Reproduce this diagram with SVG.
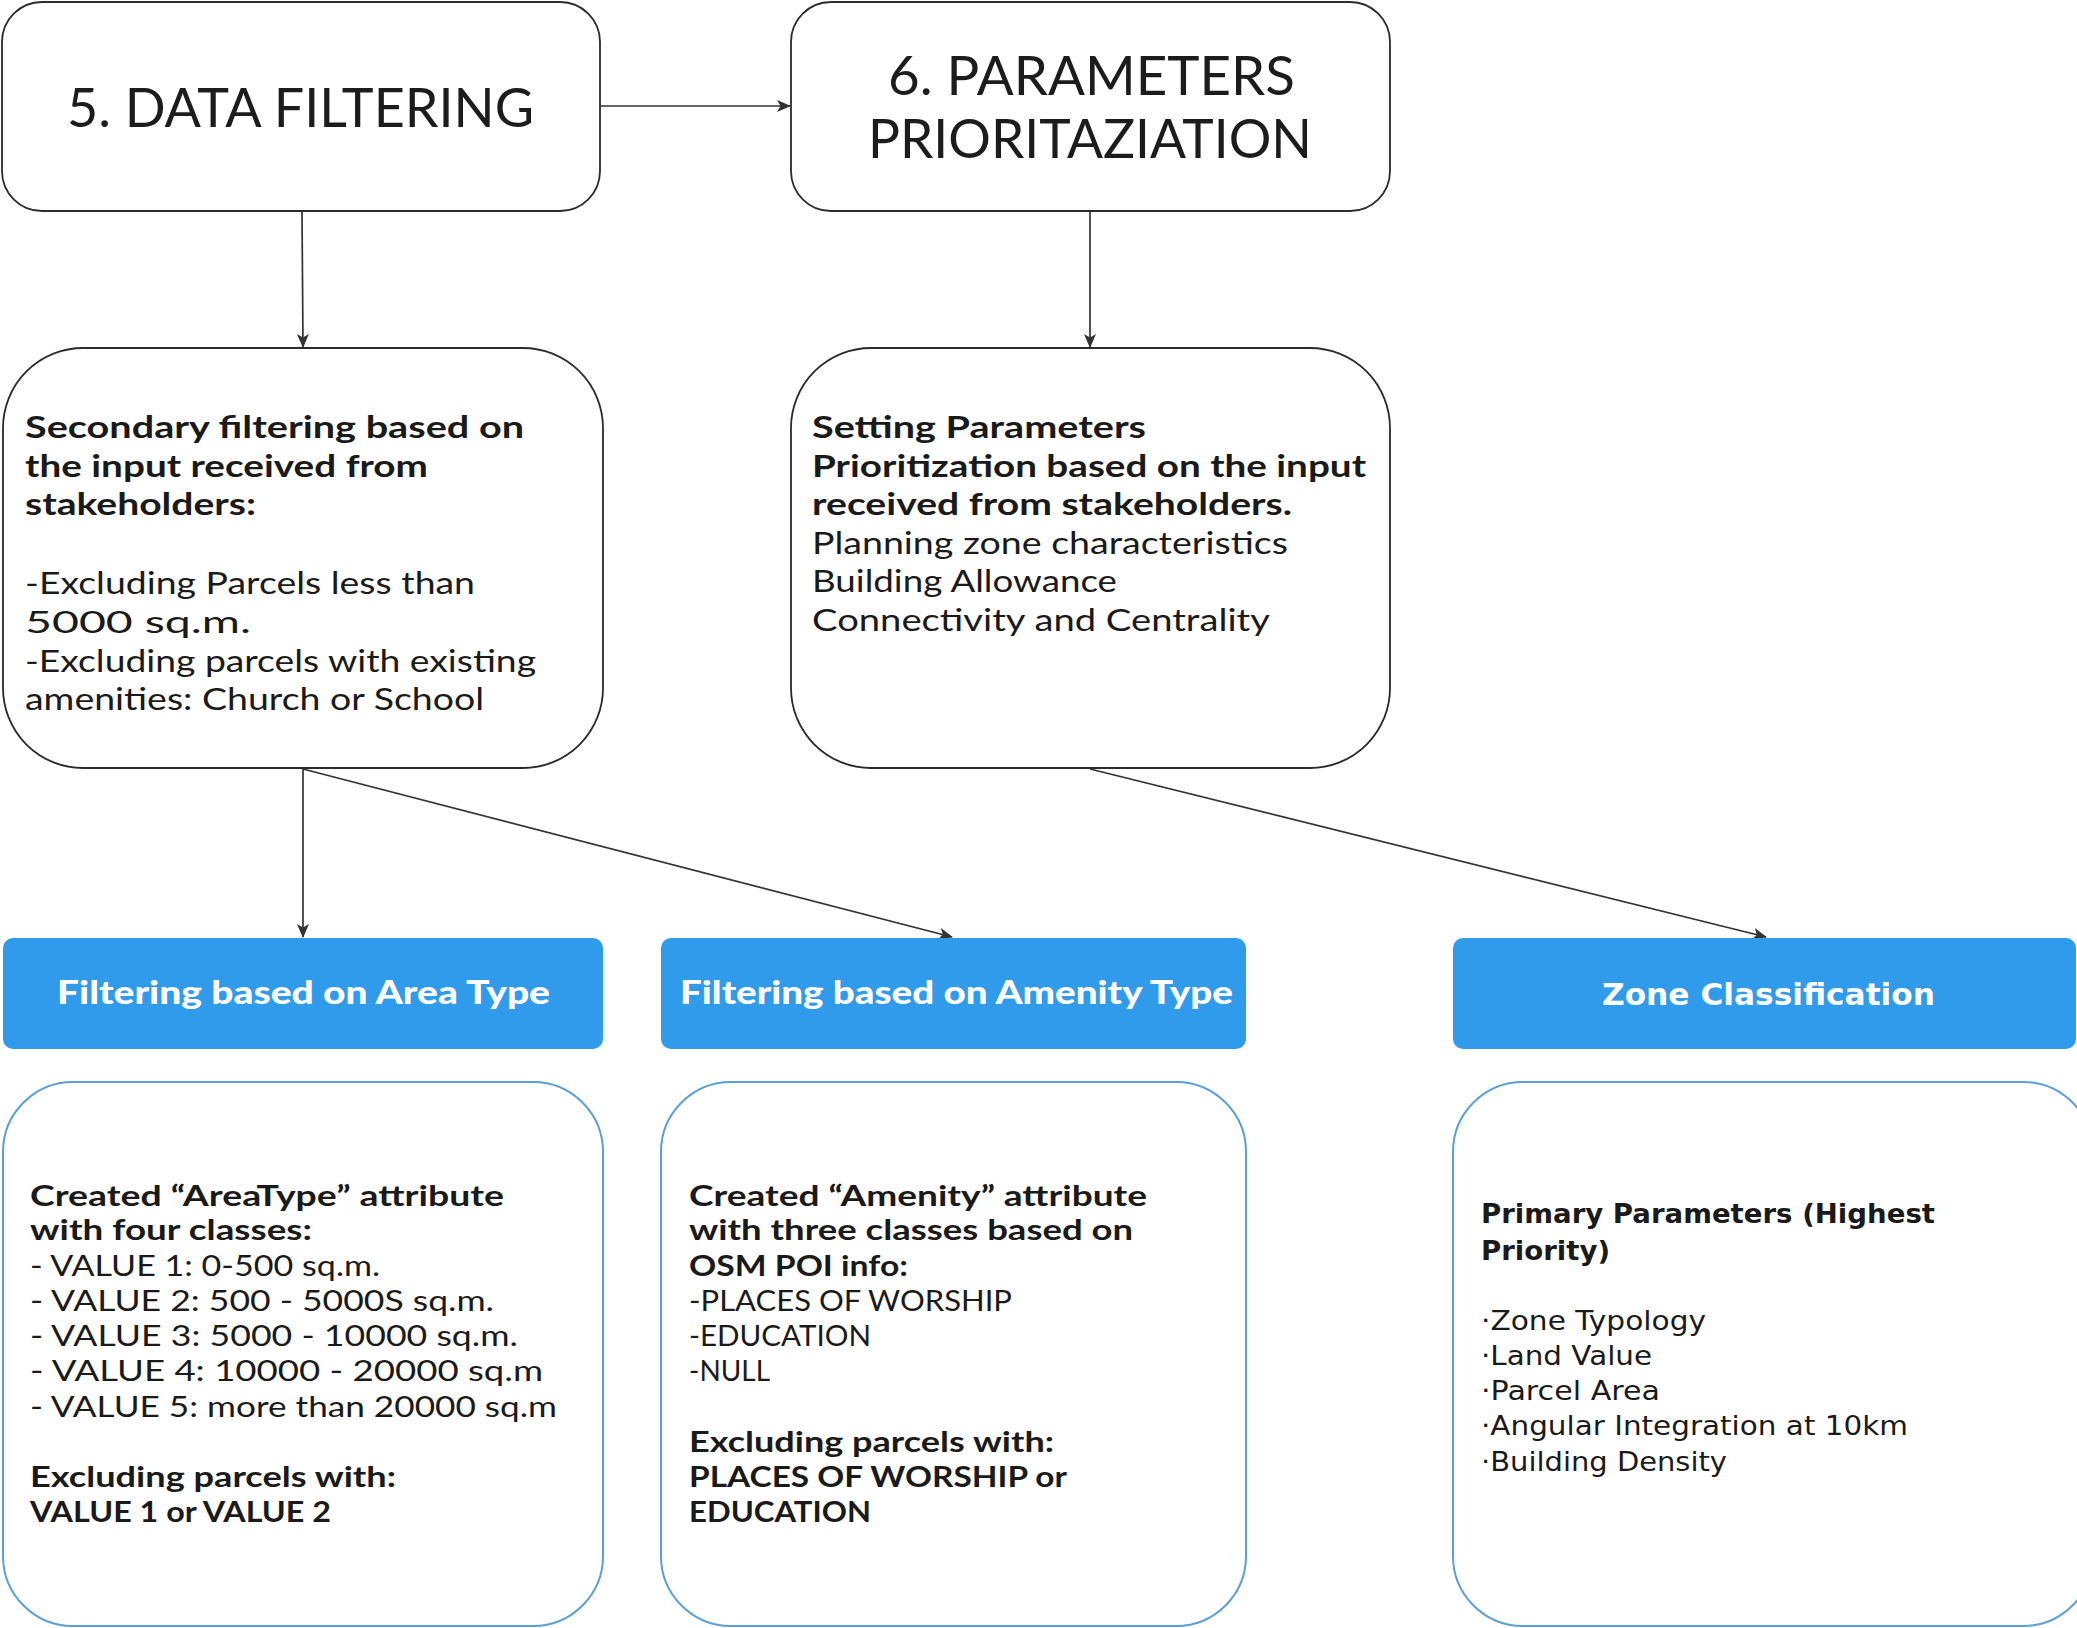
<svg xmlns="http://www.w3.org/2000/svg" width="2077" height="1628" viewBox="0 0 2077 1628">
<defs>
<style>
.box{fill:#fff;stroke:#2b2b2b;stroke-width:1.8}
.bbox{fill:#fff;stroke:#5b9fd6;stroke-width:2}
.blue{fill:#2f9bea}
.title{font-family:Lato,"Liberation Sans",sans-serif;font-size:54px;fill:#1c1c1c}
.b{font-family:Lato,"Liberation Sans",sans-serif;font-weight:bold;font-size:30px;fill:#1a1a1a}
.r{font-family:Lato,"Liberation Sans",sans-serif;font-size:30px;fill:#1a1a1a}
.b2{font-family:Lato,"Liberation Sans",sans-serif;font-weight:bold;font-size:28px;fill:#1a1a1a}
.r2{font-family:Lato,"Liberation Sans",sans-serif;font-size:28px;fill:#1a1a1a}
.wb{font-family:Lato,"Liberation Sans",sans-serif;font-weight:900;font-size:32px;fill:#fff}
.zw{font-family:"DejaVu Sans",sans-serif;font-weight:bold;font-size:30px;fill:#fff}
.zb{font-family:"DejaVu Sans",sans-serif;font-weight:bold;font-size:27px;fill:#1a1a1a}
.zr{font-family:"DejaVu Sans",sans-serif;font-size:27px;fill:#1a1a1a}
.conn{stroke:#333;stroke-width:1.7;fill:none;marker-end:url(#ah)}
</style>
<marker id="ah" viewBox="0 0 14 12" refX="13" refY="6" markerWidth="14" markerHeight="12" markerUnits="userSpaceOnUse" orient="auto">
<path d="M0,0 L14,6 L0,12 L3.5,6 Z" fill="#333"/>
</marker>
</defs>

<g id="connectors">
<line class="conn" x1="600" y1="106" x2="790" y2="106"/>
<line class="conn" x1="302" y1="212" x2="303" y2="347"/>
<line class="conn" x1="1090" y1="212" x2="1090" y2="347"/>
<line class="conn" x1="303" y1="769" x2="303" y2="937"/>
<line class="conn" x1="303" y1="769" x2="952" y2="937"/>
<line class="conn" x1="1090" y1="769" x2="1766" y2="937"/>
</g>

<g id="node-data-filtering">
<rect class="box" x="2" y="2" width="598" height="209" rx="40"/>
<text class="title" x="67" y="127" textLength="467" lengthAdjust="spacingAndGlyphs">5. DATA FILTERING</text>
</g>

<g id="node-parameters">
<rect class="box" x="791" y="2" width="599" height="209" rx="40"/>
<text class="title" x="888" y="95" textLength="407" lengthAdjust="spacingAndGlyphs">6. PARAMETERS</text>
<text class="title" x="868" y="158" textLength="444" lengthAdjust="spacingAndGlyphs">PRIORITAZIATION</text>
</g>

<g id="node-secondary">
<rect class="box" x="3" y="348" width="600" height="420" rx="80"/>
<text class="b" x="25" y="438" textLength="499" lengthAdjust="spacingAndGlyphs">Secondary filtering based on</text>
<text class="b" x="25" y="477" textLength="403" lengthAdjust="spacingAndGlyphs">the input received from</text>
<text class="b" x="25" y="515" textLength="231" lengthAdjust="spacingAndGlyphs">stakeholders:</text>
<text class="r" x="25" y="594" textLength="450" lengthAdjust="spacingAndGlyphs">-Excluding Parcels less than</text>
<text class="r" x="25" y="633" textLength="226" lengthAdjust="spacingAndGlyphs">5000 sq.m.</text>
<text class="r" x="25" y="672" textLength="511" lengthAdjust="spacingAndGlyphs">-Excluding parcels with existing</text>
<text class="r" x="25" y="710" textLength="459" lengthAdjust="spacingAndGlyphs">amenities: Church or School</text>
</g>

<g id="node-setting">
<rect class="box" x="791" y="348" width="599" height="420" rx="80"/>
<text class="b" x="812" y="438" textLength="334" lengthAdjust="spacingAndGlyphs">Setting Parameters</text>
<text class="b" x="812" y="477" textLength="554" lengthAdjust="spacingAndGlyphs">Prioritization based on the input</text>
<text class="b" x="812" y="515" textLength="480" lengthAdjust="spacingAndGlyphs">received from stakeholders.</text>
<text class="r" x="812" y="554" textLength="476" lengthAdjust="spacingAndGlyphs">Planning zone characteristics</text>
<text class="r" x="812" y="592" textLength="305" lengthAdjust="spacingAndGlyphs">Building Allowance</text>
<text class="r" x="812" y="631" textLength="458" lengthAdjust="spacingAndGlyphs">Connectivity and Centrality</text>
</g>

<g id="node-area-type">
<rect class="blue" x="3" y="938" width="600" height="111" rx="10"/>
<text class="wb" x="57" y="1004" textLength="493" lengthAdjust="spacingAndGlyphs">Filtering based on Area Type</text>
</g>

<g id="node-amenity-type">
<rect class="blue" x="661" y="938" width="585" height="111" rx="10"/>
<text class="wb" x="680" y="1004" textLength="553" lengthAdjust="spacingAndGlyphs">Filtering based on Amenity Type</text>
</g>

<g id="node-zone">
<rect class="blue" x="1453" y="938" width="623" height="111" rx="10"/>
<text class="zw" x="1602" y="1005" textLength="333" lengthAdjust="spacingAndGlyphs">Zone Classification</text>
</g>

<g id="node-area-detail">
<rect class="bbox" x="3" y="1082" width="600" height="544" rx="70"/>
<text class="b2" x="30" y="1206" textLength="474" lengthAdjust="spacingAndGlyphs">Created “AreaType” attribute</text>
<text class="b2" x="30" y="1240" textLength="282" lengthAdjust="spacingAndGlyphs">with four classes:</text>
<text class="r2" x="30" y="1276" textLength="350" lengthAdjust="spacingAndGlyphs">- VALUE 1: 0-500 sq.m.</text>
<text class="r2" x="30" y="1311" textLength="464" lengthAdjust="spacingAndGlyphs">- VALUE 2: 500 - 5000S sq.m.</text>
<text class="r2" x="30" y="1346" textLength="488" lengthAdjust="spacingAndGlyphs">- VALUE 3: 5000 - 10000 sq.m.</text>
<text class="r2" x="30" y="1381" textLength="513" lengthAdjust="spacingAndGlyphs">-  VALUE 4: 10000 - 20000 sq.m</text>
<text class="r2" x="30" y="1417" textLength="527" lengthAdjust="spacingAndGlyphs">-  VALUE 5: more than 20000 sq.m</text>
<text class="b2" x="30" y="1487" textLength="366" lengthAdjust="spacingAndGlyphs">Excluding parcels with:</text>
<text class="b2" x="30" y="1522" textLength="301" lengthAdjust="spacingAndGlyphs">VALUE 1 or VALUE 2</text>
</g>

<g id="node-amenity-detail">
<rect class="bbox" x="661" y="1082" width="585" height="544" rx="70"/>
<text class="b2" x="689" y="1206" textLength="458" lengthAdjust="spacingAndGlyphs">Created “Amenity” attribute</text>
<text class="b2" x="689" y="1240" textLength="444" lengthAdjust="spacingAndGlyphs">with three classes based on</text>
<text class="b2" x="689" y="1276" textLength="219" lengthAdjust="spacingAndGlyphs">OSM POI info:</text>
<text class="r2" x="689" y="1311" textLength="323" lengthAdjust="spacingAndGlyphs">-PLACES OF WORSHIP</text>
<text class="r2" x="689" y="1346" textLength="182" lengthAdjust="spacingAndGlyphs">-EDUCATION</text>
<text class="r2" x="689" y="1381" textLength="81" lengthAdjust="spacingAndGlyphs">-NULL</text>
<text class="b2" x="689" y="1452" textLength="365" lengthAdjust="spacingAndGlyphs">Excluding parcels with:</text>
<text class="b2" x="689" y="1487" textLength="378" lengthAdjust="spacingAndGlyphs">PLACES OF WORSHIP or</text>
<text class="b2" x="689" y="1522" textLength="182" lengthAdjust="spacingAndGlyphs">EDUCATION</text>
</g>

<g id="node-zone-detail">
<rect class="bbox" x="1453" y="1082" width="640" height="544" rx="70"/>
<text class="zb" x="1481" y="1223" textLength="454" lengthAdjust="spacingAndGlyphs">Primary Parameters (Highest</text>
<text class="zb" x="1481" y="1260" textLength="129" lengthAdjust="spacingAndGlyphs">Priority)</text>
<text class="zr" x="1481" y="1330" textLength="225" lengthAdjust="spacingAndGlyphs">·Zone Typology</text>
<text class="zr" x="1481" y="1365" textLength="171" lengthAdjust="spacingAndGlyphs">·Land Value</text>
<text class="zr" x="1481" y="1400" textLength="179" lengthAdjust="spacingAndGlyphs">·Parcel Area</text>
<text class="zr" x="1481" y="1435" textLength="427" lengthAdjust="spacingAndGlyphs">·Angular Integration at 10km</text>
<text class="zr" x="1481" y="1471" textLength="246" lengthAdjust="spacingAndGlyphs">·Building Density</text>
</g>
</svg>
